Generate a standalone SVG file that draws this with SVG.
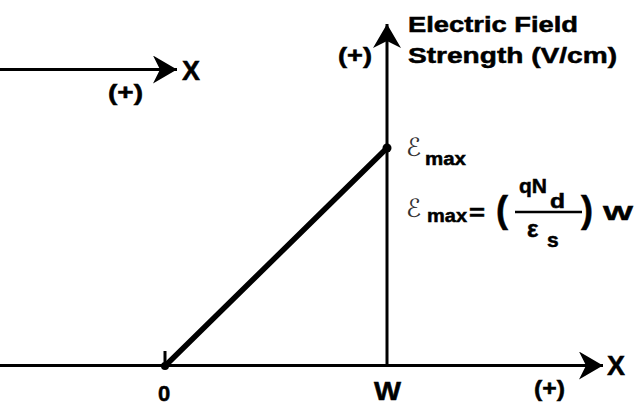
<svg xmlns="http://www.w3.org/2000/svg" width="635" height="405" viewBox="0 0 635 405">
<style>
.t{font-family:"Liberation Sans",Arial,sans-serif;font-weight:bold;fill:#000;stroke:#000;stroke-width:0.5}
.ax{stroke:#000;stroke-width:3;fill:none}
.sc{font-family:"DejaVu Sans","DejaVu Serif",sans-serif;font-weight:normal;fill:#333}
</style>
<defs>
<marker id="ah" markerUnits="userSpaceOnUse" markerWidth="26" markerHeight="30" refX="24" refY="14" orient="auto" viewBox="0 0 26 30">
<path d="M24,14 L0,0 L7,14 L0,28 Z" fill="#000"/>
</marker>
</defs>
<rect width="635" height="405" fill="#fff"/>
<g id="connectors">
<line class="ax" x1="0" y1="69.5" x2="177" y2="69.5" marker-end="url(#ah)"/>
<line class="ax" x1="0" y1="365.5" x2="603" y2="365.5" marker-end="url(#ah)"/>
<line class="ax" x1="387" y1="366" x2="387" y2="24" marker-end="url(#ah)"/>
<line x1="165" y1="366" x2="387" y2="148" stroke="#000" stroke-width="5.5" stroke-linecap="round"/>
<line x1="165" y1="351" x2="165" y2="366" stroke="#000" stroke-width="3"/>
<circle cx="165" cy="366" r="4" fill="#000"/>
<circle cx="387" cy="148" r="4.5" fill="#000"/>
</g>
<g id="top-axis-labels">
<text class="t" x="182" y="80" font-size="28" textLength="18" lengthAdjust="spacingAndGlyphs">X</text>
<text class="t" x="108" y="100" font-size="22" textLength="35" lengthAdjust="spacingAndGlyphs">(+)</text>
</g>
<g id="y-axis-labels">
<text class="t" x="408" y="32" font-size="22" textLength="170" lengthAdjust="spacingAndGlyphs">Electric Field</text>
<text class="t" x="408" y="63" font-size="22" textLength="209" lengthAdjust="spacingAndGlyphs">Strength (V/cm)</text>
<text class="t" x="338" y="63" font-size="22" textLength="34" lengthAdjust="spacingAndGlyphs">(+)</text>
</g>
<g id="emax-label">
<text class="sc" x="406" y="156" font-size="25">ℰ</text>
<text class="t" x="425" y="165" font-size="19" textLength="41" lengthAdjust="spacingAndGlyphs">max</text>
</g>
<g id="formula">
<text class="sc" x="406" y="217" font-size="25">ℰ</text>
<text class="t" x="427" y="222" font-size="19" textLength="40" lengthAdjust="spacingAndGlyphs">max</text>
<text class="t" x="469" y="220" font-size="22" textLength="16" lengthAdjust="spacingAndGlyphs">=</text>
<text class="t" x="496" y="222" font-size="36">(</text>
<text class="t" x="519" y="193" font-size="21">qN</text>
<text class="t" x="550" y="208" font-size="20" textLength="15" lengthAdjust="spacingAndGlyphs">d</text>
<line x1="515" y1="212" x2="582" y2="212" stroke="#000" stroke-width="2.5"/>
<text class="t" x="527" y="237" font-size="24">ε</text>
<text class="t" x="547" y="247" font-size="21">s</text>
<text class="t" x="581" y="222" font-size="36">)</text>
<text class="t" x="603" y="220" font-size="20" textLength="30" lengthAdjust="spacingAndGlyphs">W</text>
</g>
<g id="bottom-axis-labels">
<text class="t" x="158" y="401" font-size="22">0</text>
<text class="t" x="607" y="375" font-size="28" textLength="18" lengthAdjust="spacingAndGlyphs">X</text>
<text class="t" x="534" y="396" font-size="22" textLength="31" lengthAdjust="spacingAndGlyphs">(+)</text>
<text class="t" x="374" y="400" font-size="25" textLength="27" lengthAdjust="spacingAndGlyphs">W</text>
</g>
</svg>
